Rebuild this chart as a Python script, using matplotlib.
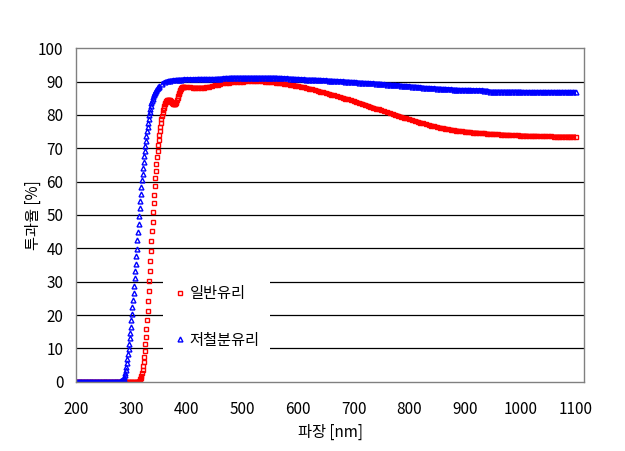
import numpy as np
import matplotlib
matplotlib.use('Agg')
from matplotlib import pyplot as plt

plt.rcParams['font.family'] = ['Noto Sans CJK KR', 'DejaVu Sans']

# 일반유리 (regular glass): 5 nm up to 315, 1 nm 316-395, 5 nm 400-1100
red_head = np.arange(200, 316, 5)
red_mid = np.arange(316, 396, 1)
red_tail = np.arange(400, 1101, 5)
red_nm = np.concatenate([red_head, red_mid, red_tail])
red_val = [0.0] * 23 + [0.3] + [
    0.7, 1.2, 1.8, 2.6, 3.5, 4.6, 5.9, 7.4, 9.2, 11.2,
    13.4, 15.9, 18.5, 21.3, 24.2, 27.2, 30.2, 33.2, 36.2, 39.2,
    42.2, 45.1, 48.0, 50.8, 53.5, 56.1, 58.6, 61.0, 63.3, 65.4,
    67.4, 69.3, 71.0, 72.6, 74.0, 75.3, 76.4, 77.6, 78.7, 79.8,
    80.7, 81.5, 82.2, 82.8, 83.3, 83.7, 84.0, 84.2, 84.4, 84.5,
    84.6, 84.6, 84.6, 84.5, 84.3, 84.1, 83.9, 83.7, 83.5, 83.4,
    83.3, 83.2, 83.2, 83.3, 83.6, 84.0, 84.5, 85.0, 85.6, 86.2,
    86.7, 87.2, 87.6, 87.9, 88.1, 88.3, 88.4, 88.5, 88.5, 88.5,
] + [
    88.4, 88.3, 88.2, 88.2, 88.2, 88.2, 88.2, 88.3, 88.4, 88.6,
    88.9, 89.1, 89.3, 89.5, 89.6, 89.7, 89.8, 89.9, 89.9, 90.0,
    90.0, 90.1, 90.1, 90.1, 90.1, 90.1, 90.1, 90.1, 90.0, 90.0,
    89.9, 89.8, 89.7, 89.6, 89.5, 89.4, 89.2, 89.1, 89.0, 88.8,
    88.7, 88.5, 88.3, 88.1, 87.9, 87.7, 87.5, 87.3, 87.0, 86.8,
    86.6, 86.4, 86.1, 85.9, 85.6, 85.4, 85.2, 84.9, 84.7, 84.4,
    84.2, 83.9, 83.6, 83.4, 83.1, 82.8, 82.5, 82.2, 81.9, 81.7,
    81.4, 81.1, 80.8, 80.6, 80.3, 80.0, 79.8, 79.5, 79.2, 79.0,
    78.7, 78.5, 78.2, 78.0, 77.7, 77.5, 77.2, 77.0, 76.8, 76.6,
    76.4, 76.2, 76.0, 75.9, 75.7, 75.6, 75.4, 75.3, 75.2, 75.1,
    75.0, 74.9, 74.8, 74.7, 74.7, 74.6, 74.5, 74.5, 74.4, 74.3,
    74.3, 74.2, 74.2, 74.1, 74.1, 74.0, 74.0, 73.9, 73.9, 73.9,
    73.8, 73.8, 73.8, 73.7, 73.7, 73.7, 73.7, 73.6, 73.6, 73.6,
    73.6, 73.6, 73.5, 73.5, 73.5, 73.5, 73.5, 73.5, 73.5, 73.5,
    73.5,
]

# 저철분유리 (low-iron glass): 5 nm up to 285, 1 nm 286-350, 5 nm 355-1100
blue_head = np.arange(200, 286, 5)
blue_mid = np.arange(286, 351, 1)
blue_tail = np.arange(355, 1101, 5)
blue_nm = np.concatenate([blue_head, blue_mid, blue_tail])
blue_val = [0.0] * 17 + [0.6] + [
    0.9, 1.3, 1.9, 2.6, 3.4, 4.4, 5.5, 6.9, 8.4, 9.8,
    11.4, 13.0, 14.7, 16.5, 18.4, 20.4, 22.4, 24.5, 26.6, 28.8,
    31.0, 33.2, 35.4, 37.6, 39.8, 42.4, 44.9, 47.4, 49.8, 52.1,
    54.3, 56.4, 58.5, 60.5, 62.4, 64.2, 66.0, 67.7, 69.3, 70.8,
    72.3, 73.7, 75.1, 76.4, 77.6, 78.8, 79.9, 80.9, 81.8, 82.7,
    83.5, 84.2, 84.8, 85.4, 85.9, 86.3, 86.7, 87.0, 87.3, 87.6,
    87.9, 88.1, 88.3, 88.5, 88.7,
] + [
    89.3, 89.8, 90.1, 90.3, 90.4, 90.5, 90.6, 90.6, 90.7, 90.7,
    90.7, 90.7, 90.7, 90.8, 90.8, 90.8, 90.8, 90.8, 90.8, 90.8,
    90.9, 90.9, 91.0, 91.1, 91.1, 91.2, 91.2, 91.2, 91.2, 91.2,
    91.2, 91.2, 91.2, 91.2, 91.2, 91.2, 91.2, 91.2, 91.2, 91.2,
    91.2, 91.2, 91.1, 91.1, 91.0, 91.0, 90.9, 90.9, 90.8, 90.8,
    90.7, 90.7, 90.6, 90.6, 90.6, 90.6, 90.5, 90.5, 90.4, 90.4,
    90.3, 90.3, 90.2, 90.2, 90.1, 90.1, 90.0, 90.0, 89.9, 89.9,
    89.8, 89.7, 89.7, 89.6, 89.6, 89.5, 89.5, 89.4, 89.4, 89.3,
    89.2, 89.1, 89.1, 89.0, 89.0, 88.9, 88.8, 88.7, 88.7, 88.6,
    88.5, 88.5, 88.4, 88.3, 88.2, 88.1, 88.1, 88.0, 88.0, 87.9,
    87.9, 87.8, 87.8, 87.7, 87.7, 87.6, 87.6, 87.5, 87.5, 87.5,
    87.5, 87.5, 87.4, 87.4, 87.4, 87.4, 87.3, 87.3, 87.0, 87.0,
    87.0, 87.0, 87.0, 87.0, 87.0, 87.0, 87.0, 87.0, 87.0, 87.0,
    86.9, 86.9, 86.9, 86.9, 86.9, 86.9, 86.9, 86.9, 86.9, 86.9,
    86.9, 86.9, 86.9, 86.9, 86.9, 86.9, 86.9, 86.9, 86.9, 86.9,
]

x_ticks = list(range(200, 1101, 100))
y_ticks = list(range(0, 101, 10))


def draw(ax, nm, val, head, tail, color, marker, label):
    val = np.asarray(val)
    nh, nt = len(head), len(tail)
    # coarse (5 nm) parts: the dense measured points merge into a thick band
    ax.plot(nm[:nh], val[:nh], ls='-', lw=3.2, color=color, solid_capstyle='butt')
    ax.plot(nm[-nt:], val[-nt:], ls='-', lw=3.2, color=color, solid_capstyle='butt')
    ax.plot(nm, val, ls='none', marker=marker, ms=3.5, mew=1.0, mfc='none',
            color=color, label=label)


fig = plt.figure(figsize=(6.25, 4.51), dpi=100)
ax = fig.add_axes([0.1213, 0.1537, 0.8136, 0.7392])

draw(ax, red_nm, red_val, red_head, red_tail, '#ff0000', 's', '일반유리')
draw(ax, blue_nm, blue_val, blue_head, blue_tail, '#0000ff', '^', '저철분유리')

ax.set_xlim(200, 1115)
ax.set_ylim(0, 100)
ax.set_xticks(x_ticks)
ax.set_yticks(y_ticks)
ax.tick_params(length=0, labelsize=11)
ax.tick_params(axis='x', pad=14)
ax.tick_params(axis='y', pad=9)

ax.set_axisbelow(True)
ax.yaxis.grid(True, color='black', lw=0.9)
gl = ax.get_ygridlines()
gl[0].set_visible(False)
gl[-1].set_visible(False)
for s in ax.spines.values():
    s.set_color('#808080')
    s.set_linewidth(1.0)

ax.set_xlabel('파장 [nm]', fontsize=11, labelpad=4)
ax.set_ylabel('투과율 [%]', fontsize=11, labelpad=-3)

leg = ax.legend(loc='upper left', bbox_to_anchor=(0.1715, 0.322), borderaxespad=0,
                fontsize=11, frameon=True, fancybox=False, handlelength=0.8,
                handletextpad=0.25, borderpad=0.7, labelspacing=1.95)
leg.get_frame().set_facecolor('white')
leg.get_frame().set_edgecolor('none')
leg.get_frame().set_alpha(1.0)

fig.savefig('out.png', dpi=100)
